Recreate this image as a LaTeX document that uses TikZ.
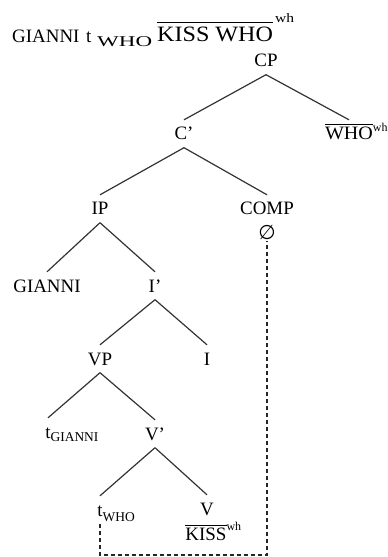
\documentclass[tikz,border=0pt]{standalone}
\usepackage{fontspec}
\setmainfont{Liberation Serif}
\newfontfamily\symfont{DejaVu Sans}
\usepackage{graphicx}

% label sizes
\newcommand\lblfont{\fontsize{19}{22}\selectfont}
\newcommand\subfont{\fontsize{13.5}{15}\selectfont}
\newcommand\supfont{\fontsize{12}{13}\selectfont}
% text with a bar over it
\newcommand\barred[2][2bp]{\leavevmode\vbox{\hrule height 1bp\kern#1\hbox{#2}}}

\begin{document}
\begin{tikzpicture}[x=1bp,y=-1bp,
  lab/.style={font=\lblfont, anchor=base, inner xsep=2bp, inner ysep=7.5bp,
              text height=12.5bp, text depth=0pt},
  headline/.style={anchor=base west, inner sep=0pt},
  branch/.style={line width=1.2bp, draw=black!80},
  chain/.style={line width=1.2bp, draw=black!85, dash pattern=on 4.5bp off 2.5bp}]
\useasboundingbox (0,0) rectangle (387,557);

% sentence on top
\node[headline, font=\lblfont] (hgianni) at (12,43) {GIANNI};
\node[headline, font=\lblfont] (ht) at (86,43) {t};
\node[headline] (hwho) at (97,47) {\scalebox{1.54}[1]{\fontsize{15}{16}\selectfont WHO}};
\node[headline] (hkiss) at (157,42) {\barred[4bp]{\scalebox{1.1}[1]{\fontsize{22}{24}\selectfont KISS WHO}}};
\node[headline] (hwh) at (275,23) {\scalebox{1.2}[1]{\fontsize{13}{14}\selectfont wh}};

% tree
\node[lab] (cp) at (266,67) {CP};
\node[lab] (cbar) at (184,140) {C’};
\node[lab] (whotop) at (349,140) {\barred{\scalebox{1.06}[1]{WHO}}\rlap{\raisebox{8bp}{\supfont wh}}};
\node[lab] (ip) at (100,215) {IP};
\node[lab] (comp) at (267,215) {COMP};
\node[anchor=base, inner sep=2bp, font=\symfont\fontsize{20}{22}\selectfont] (null) at (267,239) {∅};
\node[lab] (gianni) at (47,292) {GIANNI};
\node[lab] (ibar) at (155,292) {I’};
\node[lab] (vp) at (100,365) {VP};
\node[lab] (infl) at (207,365) {I};
\node[lab] (tg) at (48,438) {t\rlap{\raisebox{-3bp}{\subfont GIANNI}}};
\node[lab] (vbar) at (155,440) {V’};
\node[lab] (tw) at (100,516) {t\rlap{\raisebox{-5bp}{\subfont WHO}}};
\node[lab] (verb) at (207,515) {V};
\node[anchor=base, inner sep=0pt, font=\lblfont] (kiss) at (206,540) {\barred[1.5bp]{KISS}\rlap{\raisebox{10bp}{\supfont wh}}};

\draw[branch] (cp.south) -- (cbar.north);
\draw[branch] (cp.south) -- (whotop.north);
\draw[branch] (cbar.south) -- (ip.north);
\draw[branch] (cbar.south) -- (comp.north);
\draw[branch] (ip.south) -- (gianni.north);
\draw[branch] (ip.south) -- (ibar.north);
\draw[branch] (ibar.south) -- (vp.north);
\draw[branch] (ibar.south) -- (infl.north);
\draw[branch] (vp.south) -- (tg.north);
\draw[branch] (vp.south) -- (vbar.north);
\draw[branch] (vbar.south) -- (tw.north);
\draw[branch] (vbar.south) -- (verb.north);

% link from the trace to the empty complementiser
\coordinate (corner) at (267,555);
\draw[chain] (tw.south) |- (corner) -- (null.south);
\end{tikzpicture}
\end{document}
